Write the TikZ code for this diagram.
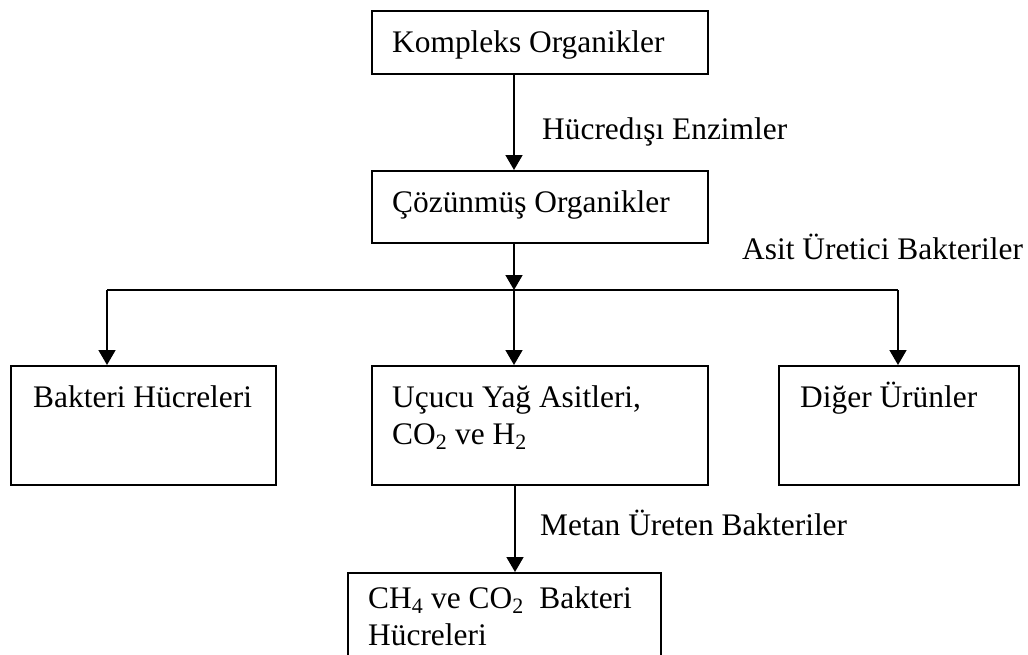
\documentclass[tikz,border=0pt]{standalone}
\usepackage{fontspec}
\setmainfont{Liberation Serif}
\usetikzlibrary{arrows.meta,calc}
\begin{document}
\begin{tikzpicture}[x=1pt,y=-1pt,
  boxst/.style={draw,line width=2pt,minimum width=#1,anchor=north west,inner sep=0pt},
  txt/.style={anchor=base west,inner sep=0pt,align=left,font=\fontsize{31.4}{37}\selectfont},
  conn/.style={line width=1.6pt},
  arr/.style={conn,-{Triangle[width=17pt,length=15pt]}}]
\useasboundingbox (0,0) rectangle (1028,654);
\clip (0,0) rectangle (1028,654);
% boxes
\node[boxst=336pt,minimum height=63pt] (b1) at (371,10) {};
\node[boxst=336pt,minimum height=72pt] (b2) at (371,170) {};
\node[boxst=265pt,minimum height=119pt] (b3) at (10,365) {};
\node[boxst=336pt,minimum height=119pt] (b4) at (371,365) {};
\node[boxst=240pt,minimum height=119pt] (b5) at (778,365) {};
\node[boxst=313pt,minimum height=140pt] (b6) at (347,572) {};
% box texts (multi-line nodes are anchored at the baseline of their last line)
\node[txt] (t1) at (392,52) {Kompleks Organikler};
\node[txt] (t2) at (392,212) {Çözünmüş Organikler};
\node[txt] (t3) at (33,407) {Bakteri Hücreleri};
\node[txt] (t4) at (392,444) {Uçucu Yağ Asitleri,\\CO\textsubscript{2} ve H\textsubscript{2}};
\node[txt] (t5) at (800,407) {Diğer Ürünler};
\node[txt] (t6) at (368,645) {CH\textsubscript{4} ve CO\textsubscript{2}\ \ Bakteri\\Hücreleri};
% labels
\node[txt] (l1) at (542,139) {Hücredışı Enzimler};
\node[txt] (l2) at (742,259) {Asit Üretici Bakteriler};
\node[txt] (l3) at (540,535) {Metan Üreten Bakteriler};
% connectors
\coordinate (sx) at (514,0);
\coordinate (sy) at (515,0);
\coordinate (jl) at (107,290);
\coordinate (jm) at (514,290);
\coordinate (jr) at (898,290);
\draw[arr] (b1.south -| sx) -- (b2.north -| sx);
\draw[arr] (b2.south -| sx) -- (jm);
\draw[conn] (jl) -- (jr);
\draw[arr] (jl) -- (b3.north -| jl);
\draw[arr] (jm) -- (b4.north -| jm);
\draw[arr] (jr) -- (b5.north -| jr);
\draw[arr] (b4.south -| sy) -- (b6.north -| sy);
\end{tikzpicture}
\end{document}
